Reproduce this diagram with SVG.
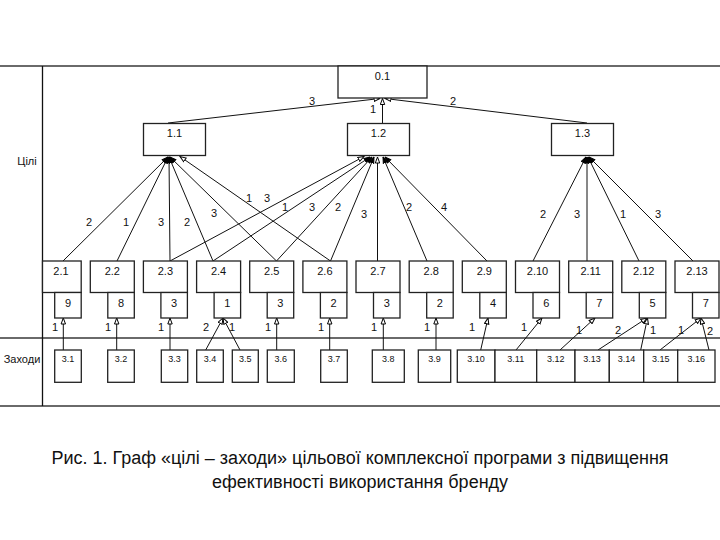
<svg xmlns="http://www.w3.org/2000/svg" width="720" height="540" viewBox="0 0 720 540">
<style>
.sep{stroke:#6a6a6a;stroke-width:2.2;fill:none}
.box{fill:#fff;stroke:#222;stroke-width:1.3}
.e{stroke:#111;stroke-width:1;fill:none;marker-end:url(#ah)}
.f{stroke:#111;stroke-width:1;fill:none;marker-end:url(#af)}
text{font-family:"Liberation Sans",Arial,sans-serif;fill:#111}
.lb{font-size:11px;text-anchor:middle}
.s{font-size:9px;text-anchor:middle}
.w{font-size:11px;text-anchor:middle}
.cap{font-size:18px;text-anchor:middle}
</style>
<defs>
<marker id="ah" markerUnits="userSpaceOnUse" markerWidth="7" markerHeight="6" viewBox="0 0 7 6" refX="6.5" refY="3" orient="auto">
<path d="M0.5,0.8 L6.5,3 L0.5,5.2 z" fill="#fff" stroke="#000" stroke-width="1"/>
</marker>
<marker id="af" markerUnits="userSpaceOnUse" markerWidth="7" markerHeight="6" viewBox="0 0 7 6" refX="6.5" refY="3" orient="auto">
<path d="M0.5,0.8 L6.5,3 L0.5,5.2 z" fill="#000" stroke="#000" stroke-width="1"/>
</marker>
</defs>
<rect width="720" height="540" fill="#fff"/>
<g id="frame">
<line class="sep" x1="0" y1="66" x2="720" y2="66"/>
<line class="sep" x1="0" y1="338" x2="720" y2="338"/>
<line class="sep" x1="0" y1="406" x2="720" y2="406"/>
<line x1="42.5" y1="66" x2="42.5" y2="406" stroke="#111" stroke-width="1.3"/>
<text class="lb" x="27" y="165">Цілі</text>
<text class="lb" x="22" y="363">Заходи</text>
</g>
<g id="connectors">
<line class="e" x1="168" y1="123" x2="380" y2="98.5"/>
<line class="e" x1="382.5" y1="123" x2="382.5" y2="98.5"/>
<line class="e" x1="587" y1="123" x2="385" y2="98.5"/>
<line class="f" x1="63" y1="261" x2="168" y2="157"/>
<line class="f" x1="117" y1="261" x2="168" y2="157"/>
<line class="f" x1="170" y1="261" x2="169" y2="157"/>
<line class="f" x1="213" y1="261" x2="169" y2="157"/>
<line class="f" x1="276.5" y1="261" x2="170" y2="157"/>
<line class="e" x1="330.5" y1="261" x2="180" y2="156.5"/>
<line class="e" x1="170" y1="261" x2="364" y2="156.5"/>
<line class="f" x1="213" y1="261" x2="370" y2="157"/>
<line class="f" x1="276.5" y1="261" x2="372" y2="157"/>
<line class="f" x1="330.5" y1="261" x2="374" y2="157"/>
<line class="e" x1="377.5" y1="261" x2="377.5" y2="157"/>
<line class="f" x1="427" y1="261" x2="383" y2="157"/>
<line class="f" x1="487" y1="261" x2="385" y2="157"/>
<line class="f" x1="533" y1="261" x2="586" y2="157"/>
<line class="f" x1="587" y1="261" x2="587" y2="157"/>
<line class="f" x1="639" y1="261" x2="588" y2="157"/>
<line class="f" x1="693" y1="261" x2="589" y2="157"/>
<line class="e" x1="63.3" y1="350" x2="63.3" y2="318"/>
<line class="e" x1="116.7" y1="350" x2="116.7" y2="318"/>
<line class="e" x1="170" y1="350" x2="170" y2="318"/>
<line class="e" x1="205.7" y1="350" x2="223" y2="318"/>
<line class="e" x1="240" y1="350" x2="223" y2="318"/>
<line class="e" x1="276.7" y1="350" x2="276.7" y2="318"/>
<line class="e" x1="329.7" y1="350" x2="329.7" y2="318"/>
<line class="e" x1="383.3" y1="350" x2="383.3" y2="318"/>
<line class="e" x1="436" y1="350" x2="436" y2="318"/>
<line class="e" x1="480.7" y1="350" x2="488" y2="318"/>
<line class="e" x1="516" y1="350" x2="542" y2="318"/>
<line class="e" x1="560" y1="350" x2="595" y2="318"/>
<line class="e" x1="598" y1="350" x2="647" y2="318"/>
<line class="e" x1="640.7" y1="350" x2="647.5" y2="318"/>
<line class="e" x1="660" y1="350" x2="701" y2="318"/>
<line class="e" x1="709" y1="350" x2="701" y2="318"/>
</g>
<g id="weights">
<text class="w" x="312" y="105">3</text>
<text class="w" x="453" y="105">2</text>
<text class="w" x="373" y="113">1</text>
<text class="w" x="89" y="226">2</text>
<text class="w" x="126" y="226">1</text>
<text class="w" x="161" y="226">3</text>
<text class="w" x="187" y="226">2</text>
<text class="w" x="214" y="217">3</text>
<text class="w" x="249" y="202">1</text>
<text class="w" x="267" y="202">3</text>
<text class="w" x="285" y="211">1</text>
<text class="w" x="312" y="211">3</text>
<text class="w" x="338" y="211">2</text>
<text class="w" x="364" y="218">3</text>
<text class="w" x="409" y="211">2</text>
<text class="w" x="444" y="211">4</text>
<text class="w" x="543" y="218">2</text>
<text class="w" x="577" y="218">3</text>
<text class="w" x="623" y="218">1</text>
<text class="w" x="658" y="218">3</text>
<text class="w" x="55" y="331">1</text>
<text class="w" x="108" y="331">1</text>
<text class="w" x="161" y="331">1</text>
<text class="w" x="206" y="331">2</text>
<text class="w" x="232" y="331">1</text>
<text class="w" x="268" y="331">1</text>
<text class="w" x="321" y="331">1</text>
<text class="w" x="374" y="331">1</text>
<text class="w" x="427" y="331">1</text>
<text class="w" x="472" y="331">1</text>
<text class="w" x="524" y="331">1</text>
<text class="w" x="579" y="334">1</text>
<text class="w" x="618" y="334">2</text>
<text class="w" x="653" y="334">1</text>
<text class="w" x="681" y="334">1</text>
<text class="w" x="710" y="335">2</text>
</g>
<g id="n0.1"><rect class="box" x="338" y="66" width="89" height="32"/><text class="lb" x="382.5" y="80">0.1</text></g>
<g id="n1.1"><rect class="box" x="143.5" y="123.5" width="62" height="32"/><text class="lb" x="174.5" y="137">1.1</text></g>
<g id="n1.2"><rect class="box" x="347.5" y="123.5" width="62" height="32"/><text class="lb" x="378.5" y="137">1.2</text></g>
<g id="n1.3"><rect class="box" x="551.5" y="123.5" width="62" height="32"/><text class="lb" x="582.5" y="137">1.3</text></g>
<g id="n2.1"><rect class="box" x="42.5" y="261" width="38.7" height="31.5"/><rect class="box" x="54.7" y="292.5" width="26.5" height="25.5"/><text class="lb" x="61" y="275">2.1</text><text class="lb" x="68" y="307">9</text></g>
<g id="n2.2"><rect class="box" x="90.3" y="261" width="44" height="31.5"/><rect class="box" x="107.8" y="292.5" width="26.5" height="25.5"/><text class="lb" x="112.3" y="275">2.2</text><text class="lb" x="121" y="307">8</text></g>
<g id="n2.3"><rect class="box" x="143.4" y="261" width="44" height="31.5"/><rect class="box" x="160.9" y="292.5" width="26.5" height="25.5"/><text class="lb" x="165.4" y="275">2.3</text><text class="lb" x="174.1" y="307">3</text></g>
<g id="n2.4"><rect class="box" x="196.6" y="261" width="44" height="31.5"/><rect class="box" x="214.1" y="292.5" width="26.5" height="25.5"/><text class="lb" x="218.6" y="275">2.4</text><text class="lb" x="227.3" y="307">1</text></g>
<g id="n2.5"><rect class="box" x="249.7" y="261" width="44" height="31.5"/><rect class="box" x="267.2" y="292.5" width="26.5" height="25.5"/><text class="lb" x="271.7" y="275">2.5</text><text class="lb" x="280.4" y="307">3</text></g>
<g id="n2.6"><rect class="box" x="302.9" y="261" width="44" height="31.5"/><rect class="box" x="320.4" y="292.5" width="26.5" height="25.5"/><text class="lb" x="324.9" y="275">2.6</text><text class="lb" x="333.6" y="307">2</text></g>
<g id="n2.7"><rect class="box" x="356" y="261" width="44" height="31.5"/><rect class="box" x="373.5" y="292.5" width="26.5" height="25.5"/><text class="lb" x="378" y="275">2.7</text><text class="lb" x="386.7" y="307">3</text></g>
<g id="n2.8"><rect class="box" x="409.2" y="261" width="44" height="31.5"/><rect class="box" x="426.7" y="292.5" width="26.5" height="25.5"/><text class="lb" x="431.2" y="275">2.8</text><text class="lb" x="439.9" y="307">2</text></g>
<g id="n2.9"><rect class="box" x="462.3" y="261" width="44" height="31.5"/><rect class="box" x="479.8" y="292.5" width="26.5" height="25.5"/><text class="lb" x="484.3" y="275">2.9</text><text class="lb" x="493" y="307">4</text></g>
<g id="n2.10"><rect class="box" x="515.5" y="261" width="44" height="31.5"/><rect class="box" x="533" y="292.5" width="26.5" height="25.5"/><text class="lb" x="537.5" y="275">2.10</text><text class="lb" x="546.2" y="307">6</text></g>
<g id="n2.11"><rect class="box" x="568.7" y="261" width="44" height="31.5"/><rect class="box" x="586.2" y="292.5" width="26.5" height="25.5"/><text class="lb" x="590.7" y="275">2.11</text><text class="lb" x="599.4" y="307">7</text></g>
<g id="n2.12"><rect class="box" x="621.8" y="261" width="44" height="31.5"/><rect class="box" x="639.3" y="292.5" width="26.5" height="25.5"/><text class="lb" x="643.8" y="275">2.12</text><text class="lb" x="652.5" y="307">5</text></g>
<g id="n2.13"><rect class="box" x="675" y="261" width="44" height="31.5"/><rect class="box" x="692.5" y="292.5" width="26.5" height="25.5"/><text class="lb" x="697" y="275">2.13</text><text class="lb" x="705.7" y="307">7</text></g>
<g id="n3.1"><rect class="box" x="54.7" y="350" width="26.6" height="32.3"/><text class="s" x="68" y="362">3.1</text></g>
<g id="n3.2"><rect class="box" x="107.7" y="350" width="26.6" height="32.3"/><text class="s" x="121" y="362">3.2</text></g>
<g id="n3.3"><rect class="box" x="161.3" y="350" width="26.4" height="32.3"/><text class="s" x="174.5" y="362">3.3</text></g>
<g id="n3.4"><rect class="box" x="196.7" y="350" width="26.6" height="32.3"/><text class="s" x="210" y="362">3.4</text></g>
<g id="n3.5"><rect class="box" x="232.3" y="350" width="26" height="32.3"/><text class="s" x="245.3" y="362">3.5</text></g>
<g id="n3.6"><rect class="box" x="267.3" y="350" width="27" height="32.3"/><text class="s" x="280.8" y="362">3.6</text></g>
<g id="n3.7"><rect class="box" x="320.7" y="350" width="26.6" height="32.3"/><text class="s" x="334" y="362">3.7</text></g>
<g id="n3.8"><rect class="box" x="372.3" y="350" width="32" height="32.3"/><text class="s" x="388.3" y="362">3.8</text></g>
<g id="n3.9"><rect class="box" x="418.3" y="350" width="32.4" height="32.3"/><text class="s" x="434.5" y="362">3.9</text></g>
<g id="n3.10"><rect class="box" x="457.3" y="350" width="37.7" height="32.3"/><text class="s" x="476" y="362">3.10</text></g>
<g id="n3.11"><rect class="box" x="495" y="350" width="41.7" height="32.3"/><text class="s" x="515.8" y="362">3.11</text></g>
<g id="n3.12"><rect class="box" x="536.7" y="350" width="38.3" height="32.3"/><text class="s" x="555.8" y="362">3.12</text></g>
<g id="n3.13"><rect class="box" x="575" y="350" width="34.3" height="32.3"/><text class="s" x="592" y="362">3.13</text></g>
<g id="n3.14"><rect class="box" x="609.3" y="350" width="34.4" height="32.3"/><text class="s" x="626.5" y="362">3.14</text></g>
<g id="n3.15"><rect class="box" x="643.7" y="350" width="34" height="32.3"/><text class="s" x="660.7" y="362">3.15</text></g>
<g id="n3.16"><rect class="box" x="677.7" y="350" width="37.3" height="32.3"/><text class="s" x="696.3" y="362">3.16</text></g>
<g id="caption">
<text class="cap" x="360" y="464">Рис. 1. Граф «цілі – заходи» цільової комплексної програми з підвищення</text>
<text class="cap" x="360" y="488">ефективності використання бренду</text>
</g>
</svg>
